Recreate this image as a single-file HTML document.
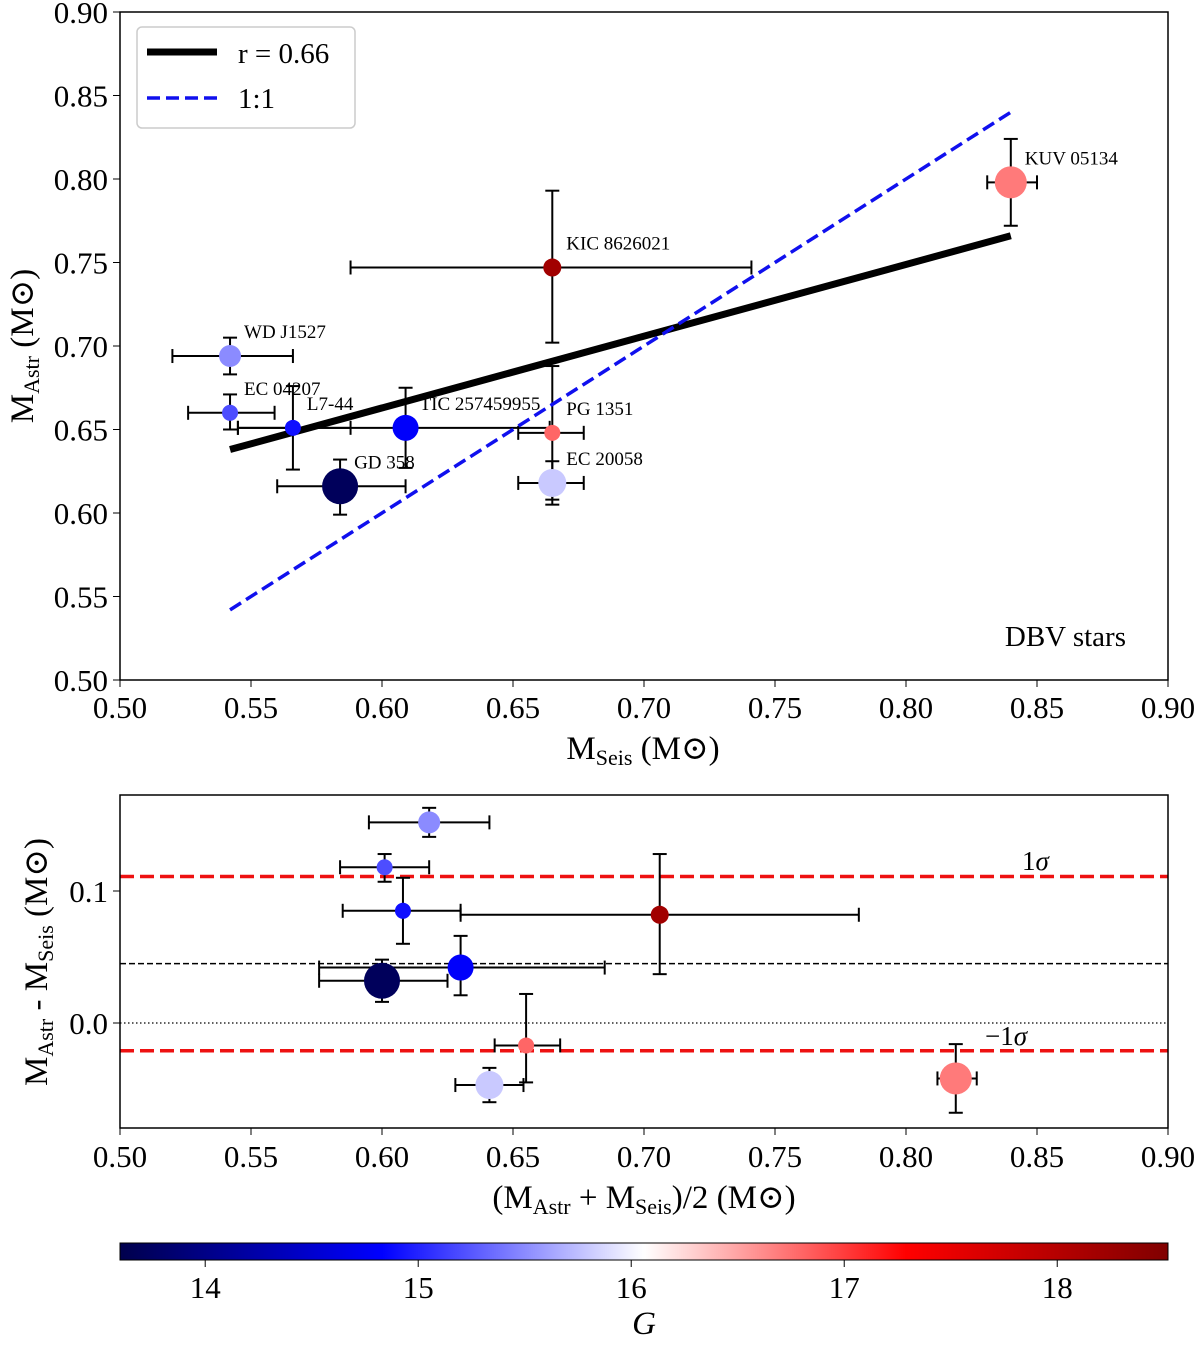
<!DOCTYPE html>
<html><head><meta charset="utf-8"><style>
html,body{margin:0;padding:0;background:#fff}
text,tspan{font-family:"Liberation Serif","DejaVu Serif",serif;fill:#000}
</style></head><body>
<svg id="c" width="1200" height="1340" xmlns="http://www.w3.org/2000/svg" font-family="Liberation Serif, DejaVu Serif, serif">
<defs>
<linearGradient id="cmap" x1="0" x2="1" y1="0" y2="0">
<stop offset="0" stop-color="#00004c"/><stop offset="0.25" stop-color="#0000ff"/><stop offset="0.5" stop-color="#ffffff"/><stop offset="0.75" stop-color="#ff0000"/><stop offset="1" stop-color="#800000"/>
</linearGradient>
</defs>
<g id="gtop"></g>
<g id="gbot"></g>
<g id="gcb"></g>
</svg>
<script>
const names=["WD J1527","EC 04207","L7-44","TIC 257459955","GD 358","KIC 8626021","PG 1351","EC 20058","KUV 05134"];
const mSeis=[0.542,0.542,0.566,0.609,0.584,0.665,0.665,0.665,0.840];
const mSeisLo=[0.520,0.526,0.545,0.545,0.560,0.588,0.652,0.652,0.831];
const mSeisHi=[0.566,0.559,0.588,0.664,0.609,0.741,0.677,0.677,0.850];
const mAstr=[0.694,0.660,0.651,0.651,0.616,0.747,0.648,0.618,0.798];
const mAstrLo=[0.683,0.650,0.626,0.627,0.599,0.702,0.608,0.605,0.772];
const mAstrHi=[0.705,0.671,0.676,0.675,0.632,0.793,0.688,0.631,0.824];
const gMag=[15.5,15.2,14.9,14.8,13.7,18.2,16.8,15.8,16.7];
const sizes=[11,8,8,13,18,9,8,14,16];
const meanX=[0.618,0.601,0.608,0.630,0.600,0.706,0.655,0.641,0.819];
const meanXLo=[0.595,0.584,0.585,0.576,0.576,0.630,0.643,0.628,0.812];
const meanXHi=[0.641,0.618,0.630,0.685,0.625,0.782,0.668,0.654,0.827];
const diff=[0.152,0.118,0.085,0.042,0.032,0.082,-0.017,-0.047,-0.042];
const diffLo=[0.141,0.107,0.060,0.021,0.016,0.037,-0.045,-0.060,-0.068];
const diffHi=[0.163,0.128,0.110,0.066,0.048,0.128,0.022,-0.034,-0.016];
const fitX=[0.542,0.840], fitY=[0.638,0.766];
const sigmaLines=[0.111,-0.021], meanDiff=0.045;
const xTicks=[0.50,0.55,0.60,0.65,0.70,0.75,0.80,0.85,0.90];
const yTicksTop=[0.50,0.55,0.60,0.65,0.70,0.75,0.80,0.85,0.90];
const yTicksBot=[0.0,0.1];
const cbTicks=[14,15,16,17,18];

const NS="http://www.w3.org/2000/svg";
const FF='"Liberation Serif","DejaVu Serif",serif';
function el(p,t,a){const e=document.createElementNS(NS,t);for(const k in a)e.setAttribute(k,a[k]);if(t==='text')e.style.fontFamily=FF;p.appendChild(e);return e;}
function cmap(v){const t=(v-13.6)/(18.52-13.6);const st=[[0,[0,0,76]],[0.25,[0,0,255]],[0.5,[255,255,255]],[0.75,[255,0,0]],[1,[128,0,0]]];
 for(let i=0;i<4;i++){const a=st[i],b=st[i+1];if(t<=b[0]||i==3){const f=Math.max(0,Math.min(1,(t-a[0])/(b[0]-a[0])));return`rgb(${a[1].map((c,j)=>Math.round(c+(b[1][j]-c)*f)).join(',')})`;}}}
const TX=v=>120+(v-0.5)/0.4*1048, TY=v=>680-(v-0.5)/0.4*668;
const BX=TX, BY=v=>1023-v*1320;
const gTop=document.getElementById('gtop'),gBot=document.getElementById('gbot'),gCb=document.getElementById('gcb');
function errbar(g,x,y,x1,x2,y1,y2){
 el(g,'line',{x1:x1,x2:x2,y1:y,y2:y,stroke:'#000','stroke-width':2});
 el(g,'line',{x1:x,x2:x,y1:y1,y2:y2,stroke:'#000','stroke-width':2});
 [[x1,y],[x2,y]].forEach(p=>el(g,'line',{x1:p[0],x2:p[0],y1:p[1]-7,y2:p[1]+7,stroke:'#000','stroke-width':2}));
 [[x,y1],[x,y2]].forEach(p=>el(g,'line',{x1:p[0]-7,x2:p[0]+7,y1:p[1],y2:p[1],stroke:'#000','stroke-width':2}));
}
for(let i=0;i<names.length;i++){
 const g=el(gTop,'g',{});
 
 
 errbar(g,TX(mSeis[i]),TY(mAstr[i]),TX(mSeisLo[i]),TX(mSeisHi[i]),TY(mAstrLo[i]),TY(mAstrHi[i]));
}
const fl=el(gTop,'line',{x1:TX(fitX[0]),y1:TY(fitY[0]),x2:TX(fitX[1]),y2:TY(fitY[1]),stroke:'#000','stroke-width':7});


const ol=el(gTop,'line',{x1:TX(0.542),y1:TY(0.542),x2:TX(0.840),y2:TY(0.840),stroke:'#1010ee','stroke-width':3.5,'stroke-dasharray':'13,6'});


for(let i=0;i<names.length;i++){
 const c=el(gTop,'circle',{cx:TX(mSeis[i]),cy:TY(mAstr[i]),r:sizes[i],fill:cmap(gMag[i])});
 
 
 const tx=el(gTop,'text',{x:TX(mSeis[i])+14,y:TY(mAstr[i])-18,'font-size':19});
 tx.textContent=names[i];
 
 
}
el(gTop,'rect',{x:120,y:12,width:1048,height:668,fill:'none',stroke:'#000','stroke-width':1.5});
xTicks.forEach(v=>{el(gTop,'line',{x1:TX(v),x2:TX(v),y1:680,y2:687,stroke:'#000'});const t=el(gTop,'text',{x:TX(v),y:718,'font-size':31,'text-anchor':'middle'});t.textContent=v.toFixed(2);

});
yTicksTop.forEach(v=>{el(gTop,'line',{x1:113,x2:120,y1:TY(v),y2:TY(v),stroke:'#000'});const t=el(gTop,'text',{x:108,y:TY(v)+11,'font-size':31,'text-anchor':'end'});t.textContent=v.toFixed(2);

});
const lg=el(gTop,'g',{});


el(lg,'rect',{x:137,y:27,width:218,height:101,rx:5,fill:'#fff',stroke:'#ccc','stroke-width':1.5});
el(lg,'line',{x1:147,x2:217,y1:52,y2:52,stroke:'#000','stroke-width':7});
el(lg,'line',{x1:147,x2:217,y1:98,y2:98,stroke:'#1010ee','stroke-width':3.5,'stroke-dasharray':'13,6'});
let t=el(lg,'text',{x:238,y:63,'font-size':29});t.textContent='r = 0.66';
t=el(lg,'text',{x:238,y:108,'font-size':29});t.textContent='1:1';
t=el(gTop,'text',{x:1126,y:646,'font-size':29,'text-anchor':'end'});t.textContent='DBV stars';


t=el(gTop,'text',{x:643,y:759,'font-size':33,'text-anchor':'middle'});t.innerHTML='M<tspan font-size="22" dy="6">Seis</tspan><tspan dy="-6"> (M⊙)</tspan>';


t=el(gTop,'text',{x:0,y:0,'font-size':33,'text-anchor':'middle',transform:'translate(33,346) rotate(-90)'});t.innerHTML='M<tspan font-size="22" dy="6">Astr</tspan><tspan dy="-6"> (M⊙)</tspan>';


sigmaLines.forEach(v=>{const l=el(gBot,'line',{x1:120,x2:1168,y1:BY(v),y2:BY(v),stroke:'#ee1111','stroke-width':3.5,'stroke-dasharray':'14,6'});

});
let ml=el(gBot,'line',{x1:120,x2:1168,y1:BY(meanDiff),y2:BY(meanDiff),stroke:'#000','stroke-width':1.5,'stroke-dasharray':'6,3'});


ml=el(gBot,'line',{x1:120,x2:1168,y1:BY(0),y2:BY(0),stroke:'#000','stroke-width':1.2,'stroke-dasharray':'1.5,2.5'});


for(let i=0;i<names.length;i++){
 const g=el(gBot,'g',{});
 
 
 errbar(g,BX(meanX[i]),BY(diff[i]),BX(meanXLo[i]),BX(meanXHi[i]),BY(diffLo[i]),BY(diffHi[i]));
}
for(let i=0;i<names.length;i++){
 const c=el(gBot,'circle',{cx:BX(meanX[i]),cy:BY(diff[i]),r:sizes[i],fill:cmap(gMag[i])});
 
 
}
el(gBot,'rect',{x:120,y:795,width:1048,height:333,fill:'none',stroke:'#000','stroke-width':1.5});
xTicks.forEach(v=>{el(gBot,'line',{x1:BX(v),x2:BX(v),y1:1128,y2:1135,stroke:'#000'});const u=el(gBot,'text',{x:BX(v),y:1167,'font-size':31,'text-anchor':'middle'});u.textContent=v.toFixed(2);

});
yTicksBot.forEach(v=>{el(gBot,'line',{x1:113,x2:120,y1:BY(v),y2:BY(v),stroke:'#000'});const u=el(gBot,'text',{x:108,y:BY(v)+11,'font-size':31,'text-anchor':'end'});u.textContent=v.toFixed(1);

});
t=el(gBot,'text',{x:1022,y:870,'font-size':27});t.innerHTML='1<tspan font-style="italic">σ</tspan>';


t=el(gBot,'text',{x:985,y:1045,'font-size':27});t.innerHTML='−1<tspan font-style="italic">σ</tspan>';


t=el(gBot,'text',{x:644,y:1208,'font-size':33,'text-anchor':'middle'});t.innerHTML='(M<tspan font-size="22" dy="6">Astr</tspan><tspan dy="-6"> + M</tspan><tspan font-size="22" dy="6">Seis</tspan><tspan dy="-6">)/2 (M⊙)</tspan>';


t=el(gBot,'text',{x:0,y:0,'font-size':33,'text-anchor':'middle',transform:'translate(47,962) rotate(-90)'});t.innerHTML='M<tspan font-size="22" dy="6">Astr</tspan><tspan dy="-6"> - M</tspan><tspan font-size="22" dy="6">Seis</tspan><tspan dy="-6"> (M⊙)</tspan>';


el(gCb,'rect',{x:120,y:1243,width:1048,height:17,fill:'url(#cmap)',stroke:'#000','stroke-width':1});
const CX=v=>120+(v-13.6)/(18.52-13.6)*1048;
cbTicks.forEach(v=>{el(gCb,'line',{x1:CX(v),x2:CX(v),y1:1260,y2:1267,stroke:'#000'});const u=el(gCb,'text',{x:CX(v),y:1298,'font-size':31,'text-anchor':'middle'});u.textContent=v;

});
t=el(gCb,'text',{x:644,y:1334,'font-size':33,'text-anchor':'middle','font-style':'italic'});t.textContent='G';


</script>
</body></html>
